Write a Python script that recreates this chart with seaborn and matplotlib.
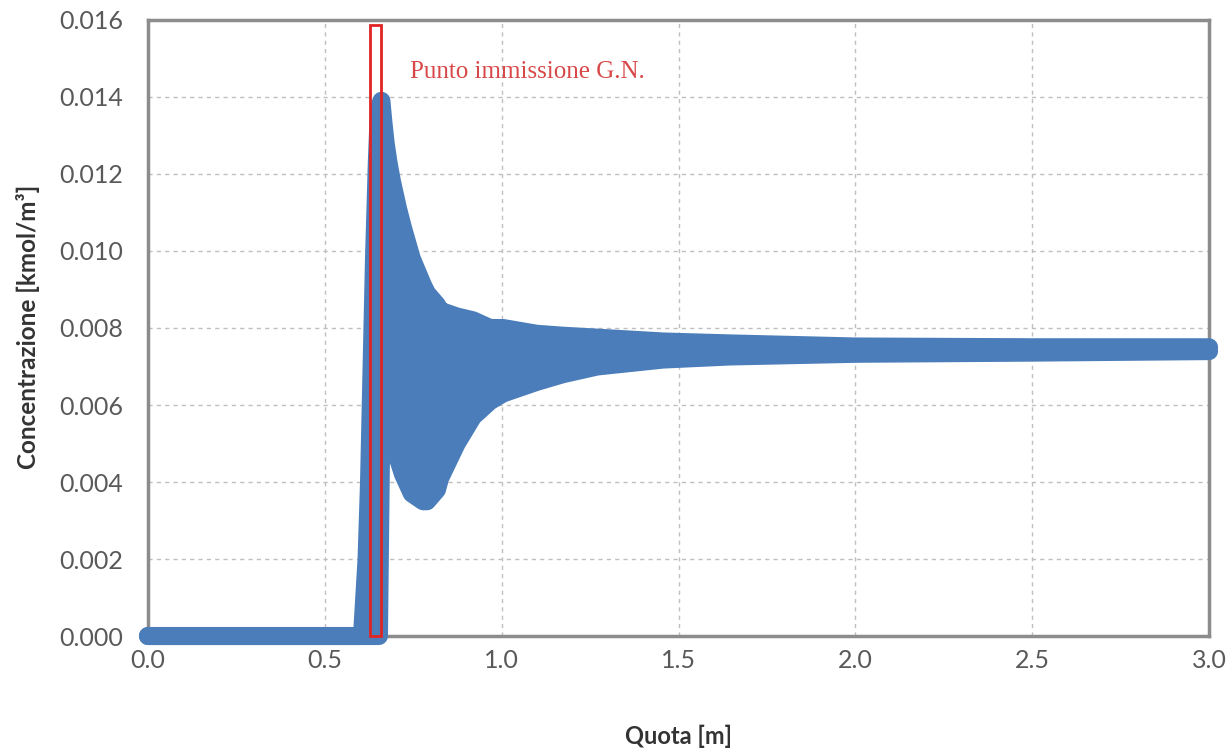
import matplotlib
matplotlib.use("Agg")
import matplotlib.pyplot as plt
import seaborn as sns
import pandas as pd
from matplotlib.patches import Rectangle

# centre line of the dense scatter envelope (upper and lower edge)
quota = [0.0, 0.30, 0.605, 0.618, 0.625, 0.639, 0.647, 0.653, 0.660, 0.665, 0.672,
         0.680, 0.690, 0.707, 0.721, 0.746, 0.778, 0.789, 0.817, 0.826, 0.873,
         0.919, 0.967, 1.004, 1.099, 1.173, 1.27, 1.456, 1.645, 2.0, 2.5, 3.0]
conc_upper = [0.0, 0.0, 0.0, 0.0020, 0.0040, 0.0098, 0.0123, 0.0137, 0.0139, 0.0134, 0.0128,
              0.0123, 0.0118, 0.0111, 0.0106, 0.0098, 0.0091, 0.0089, 0.0086, 0.00845, 0.0083,
              0.0082, 0.0080, 0.0080, 0.00785, 0.0078, 0.00775, 0.00765, 0.0076, 0.00752, 0.0075, 0.0075]
conc_lower = [0.0, 0.0, 0.0, 0.0, 0.0, 0.0, 0.0, 0.0, 0.0057, 0.0056, 0.0054,
              0.0052, 0.0050, 0.0046, 0.0042, 0.0037, 0.0035, 0.0035, 0.0038, 0.0041, 0.0050,
              0.0057, 0.0061, 0.0063, 0.0066, 0.0068, 0.0070, 0.00718, 0.00726, 0.00733, 0.00736, 0.0074]

xticks = [0.0, 0.5, 1.0, 1.5, 2.0, 2.5, 3.0]
yticks = [0.000, 0.002, 0.004, 0.006, 0.008, 0.010, 0.012, 0.014, 0.016]
inj_start, inj_end = 0.628, 0.659
inj_label = "Punto immissione G.N."

sns.set_style("white")
plt.rcParams['font.family'] = ['Lato', 'DejaVu Sans']

df = pd.DataFrame({"quota": quota, "upper": conc_upper, "lower": conc_lower})
blue = "#4A7DBA"
gray = "#8C8C8C"

fig = plt.figure(figsize=(12.3, 7.51), dpi=100)
ax = fig.add_axes([0.1203, 0.1531, 0.8627, 0.8203])

# dense markers -> filled band between edges, thick edges stand for the marker size
ax.fill_between(df["quota"], df["lower"], df["upper"], color=blue, lw=0, zorder=3)
for col in ["upper", "lower"]:
    sns.lineplot(data=df, x="quota", y=col, ax=ax, color=blue, lw=13, sort=False,
                 clip_on=False, zorder=3, solid_capstyle="round", solid_joinstyle="round")

ax.add_patch(Rectangle((inj_start, 0), inj_end - inj_start, 0.01587, fill=False,
                       edgecolor="#E02424", lw=2, zorder=5, clip_on=False))
ax.text(0.74, 0.01465, inj_label, color="#D84848", fontsize=18,
        family=["Liberation Serif"], va="center", ha="left", zorder=6)

ax.set_xlim(0, 3.0)
ax.set_ylim(0, 0.016)
ax.set_xticks(xticks)
ax.set_yticks(yticks)
ax.set_xticklabels([f"{v:.1f}" for v in xticks])
ax.set_yticklabels([f"{v:.3f}" for v in yticks])
ax.tick_params(axis="both", labelsize=18, labelcolor="#595959", color=gray,
               length=6, width=1, direction="out")
ax.tick_params(axis="x", pad=3)
ax.tick_params(axis="y", pad=12)

ax.grid(True, ls=(0, (3, 3)), color="#BFBFBF", lw=1)
ax.set_axisbelow(True)
for s in ax.spines.values():
    s.set_color(gray)
    s.set_linewidth(2.5)
    s.set_zorder(2.5)

ax.set_xlabel("Quota [m]", fontsize=17, fontweight="bold", color="#333333")
ax.set_ylabel("Concentrazione [kmol/m³]", fontsize=17.5, fontweight="bold", color="#333333")
ax.xaxis.set_label_coords(0.5, -0.1445)
ax.yaxis.label.set_va("center")
ax.yaxis.set_label_coords(-0.113, 0.502)

fig.savefig("out.png", dpi=100)
